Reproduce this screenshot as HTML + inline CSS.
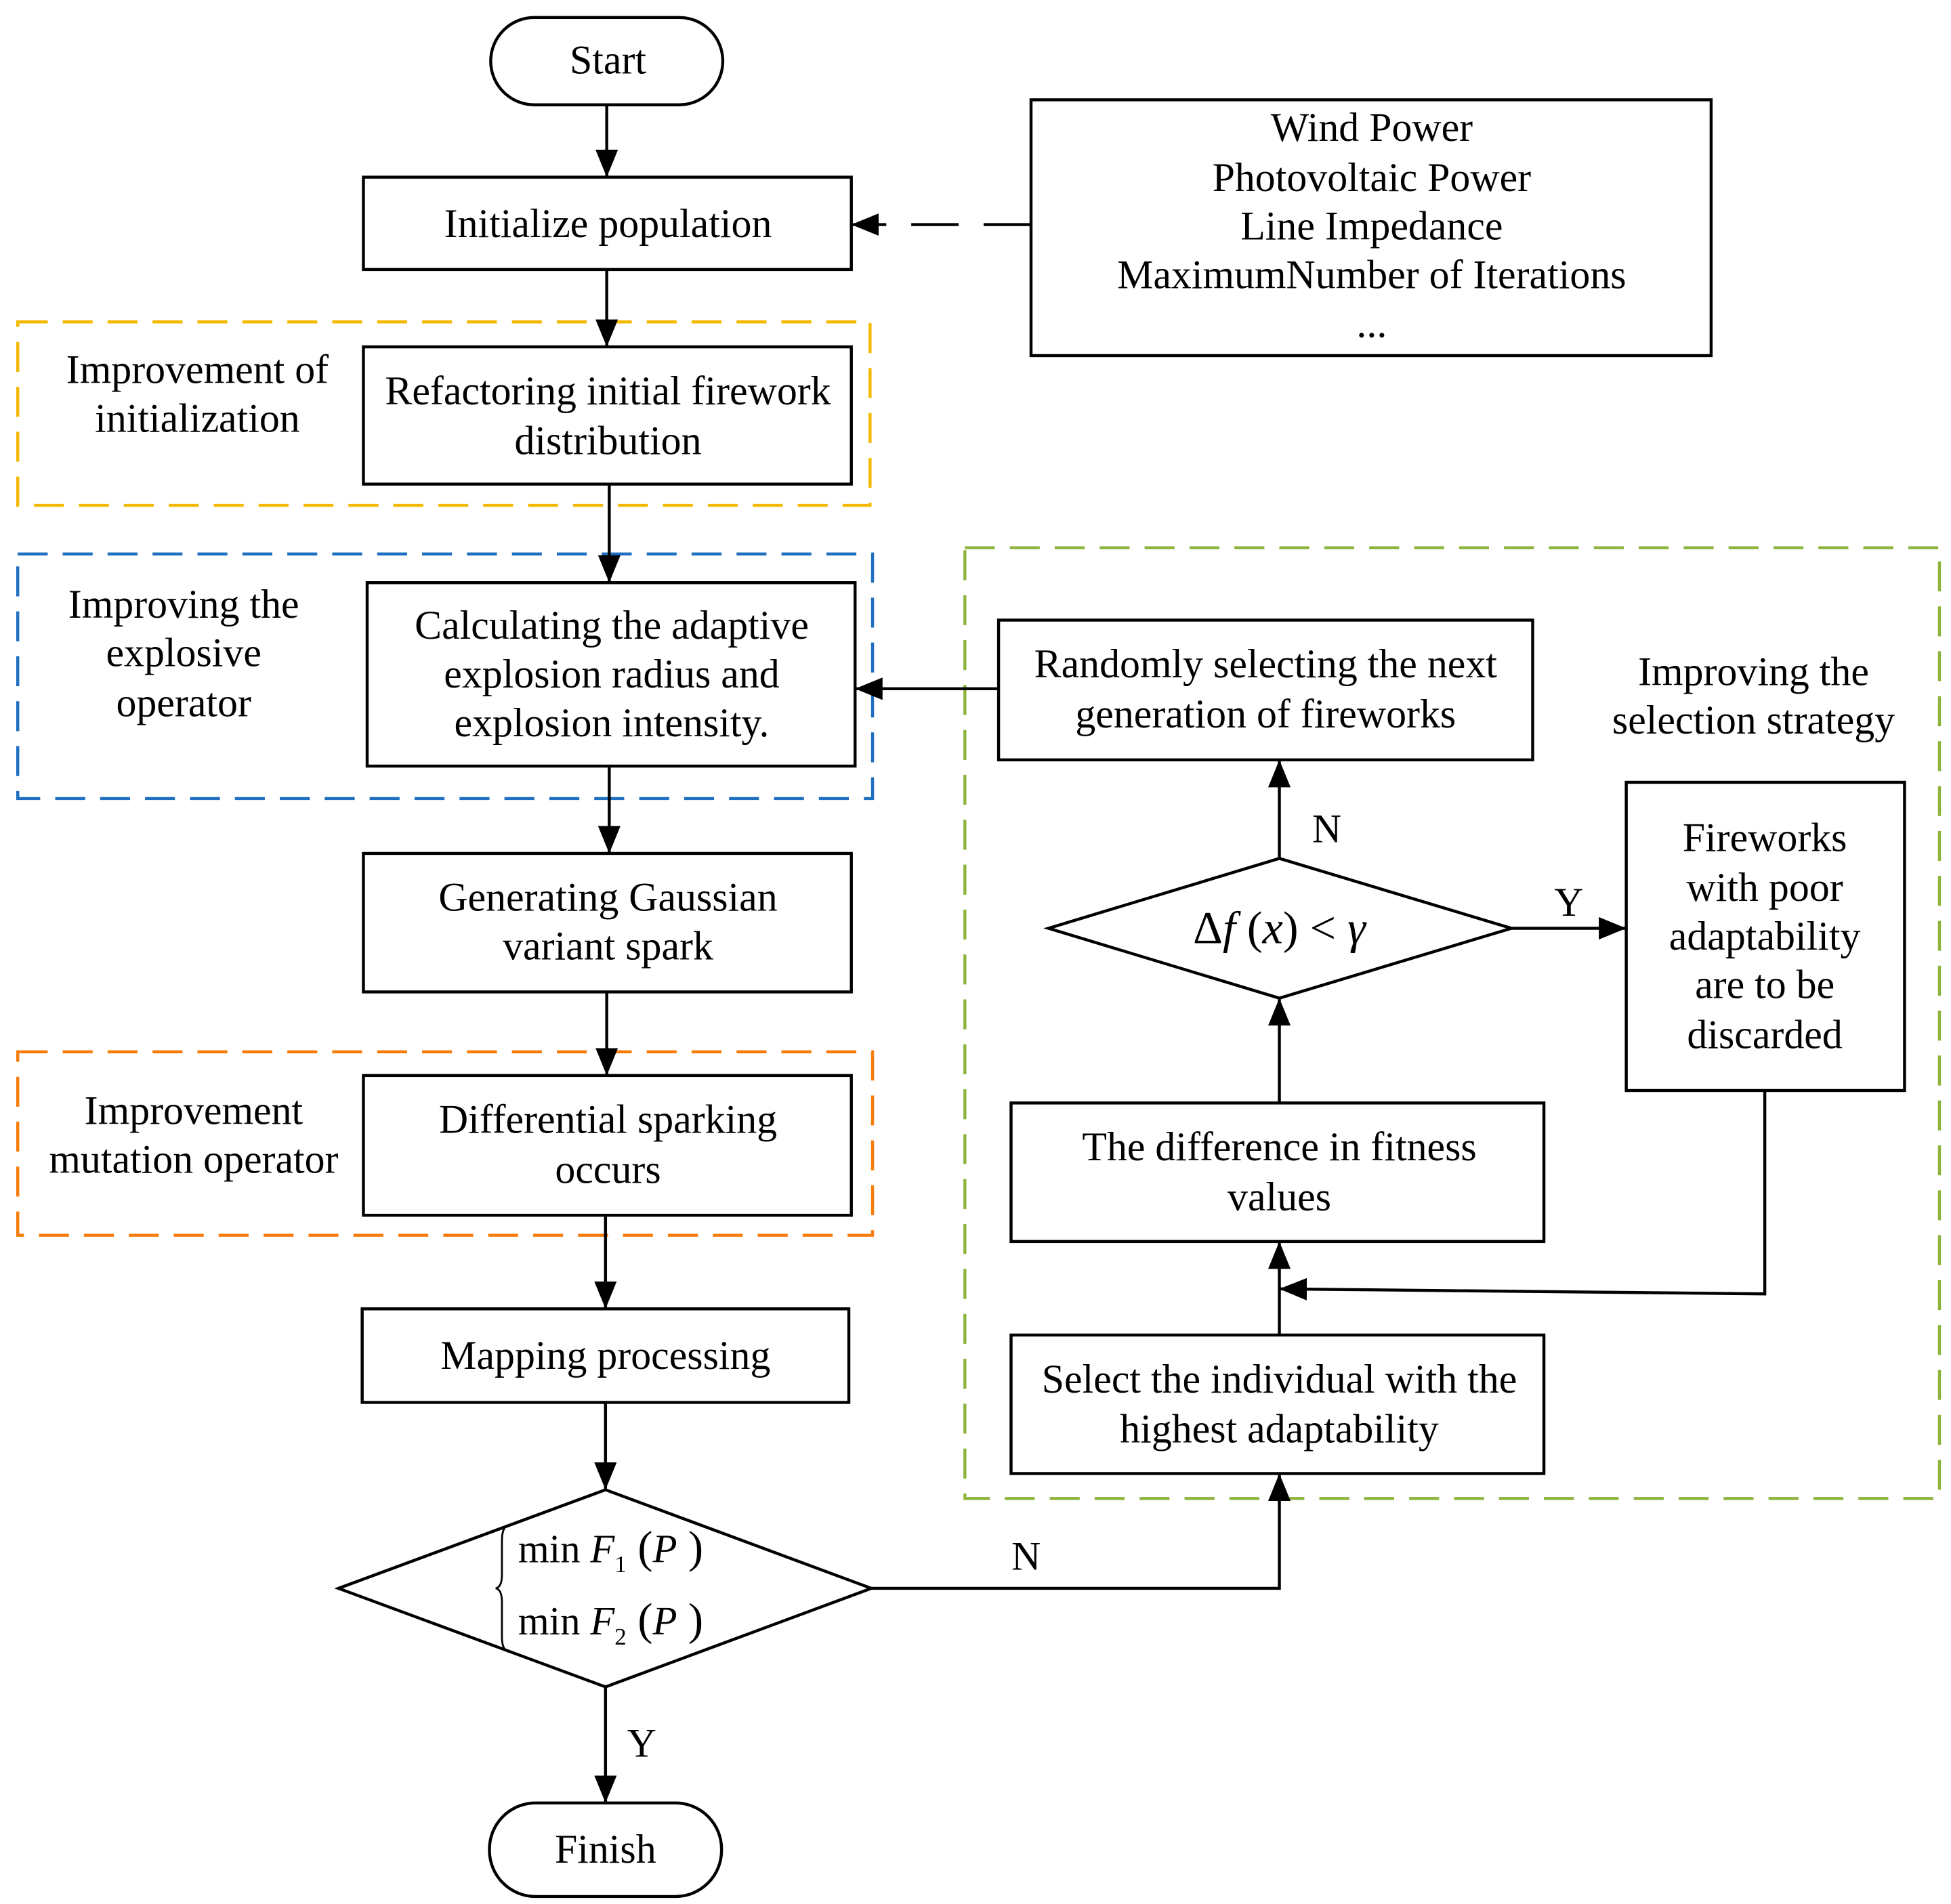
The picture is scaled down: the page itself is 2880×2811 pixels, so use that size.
<!DOCTYPE html>
<html><head><meta charset="utf-8"><style>html,body{margin:0;padding:0;background:#fff}svg{display:block}</style></head>
<body>
<svg width="2880" height="2811" viewBox="0 0 1563 1526" xmlns="http://www.w3.org/2000/svg" font-family="'Liberation Serif', serif" font-size="32.5">
<defs>
<marker id="b" markerWidth="22" markerHeight="22" refX="22" refY="11" orient="auto" markerUnits="userSpaceOnUse"><path d="M0,2 L22,11 L0,20 z" fill="#000"/></marker></defs>
<rect width="1563" height="1526" fill="#fff"/>
<g fill="none" stroke-width="2.4" stroke-dasharray="24,12">
<rect x="14" y="258" width="683" height="147" stroke="#f5b800"/>
<rect x="14" y="444" width="685" height="196" stroke="#1f6fc0"/>
<rect x="14" y="843" width="685" height="147" stroke="#f77c0a"/>
<rect x="773" y="439" width="781" height="762" stroke="#8cb43c"/>
</g>
<g fill="#fff" stroke="#000" stroke-width="2.4">
<rect x="393" y="14" width="186" height="70" rx="35"/>
<rect x="291" y="142" width="391" height="74"/>
<rect x="826" y="80" width="545" height="205"/>
<rect x="291" y="278" width="391" height="110"/>
<rect x="294" y="467" width="391" height="147"/>
<rect x="291" y="684" width="391" height="111"/>
<rect x="291" y="862" width="391" height="112"/>
<rect x="290" y="1049" width="390" height="75"/>
<polygon points="271,1273 485,1194 698,1273 485,1352"/>
<rect x="392" y="1445" width="186" height="75" rx="37"/>
<rect x="800" y="497" width="428" height="112"/>
<polygon points="840,744 1025,688 1211,744 1025,800"/>
<rect x="1303" y="627" width="223" height="247"/>
<rect x="810" y="884" width="427" height="111"/>
<rect x="810" y="1070" width="427" height="111"/>
</g>
<g stroke="#000" stroke-width="2.4" fill="none" marker-end="url(#b)">
<line x1="486" y1="84" x2="486" y2="142"/>
<line x1="486" y1="216" x2="486" y2="278"/>
<line x1="488" y1="388" x2="488" y2="467"/>
<line x1="488" y1="614" x2="488" y2="684"/>
<line x1="486" y1="795" x2="486" y2="862"/>
<line x1="485" y1="974" x2="485" y2="1049"/>
<line x1="485" y1="1124" x2="485" y2="1194"/>
<line x1="485" y1="1352" x2="485" y2="1445"/>
<polyline points="698,1273 1025,1273 1025,1181"/>
<line x1="1025" y1="1070" x2="1025" y2="995"/>
<line x1="1025" y1="884" x2="1025" y2="800"/>
<line x1="1025" y1="688" x2="1025" y2="609"/>
<line x1="1211" y1="744" x2="1303" y2="744"/>
<line x1="800" y1="552" x2="685" y2="552"/>
<polyline points="1414,874 1414,1037 1025,1033"/>
<line x1="826" y1="180" x2="682" y2="180" stroke-dasharray="38,20"/>
</g>
<g text-anchor="middle" fill="#000">
<text x="487" y="59">Start</text>
<text x="487" y="190">Initialize population</text>
<text x="1099" y="113">Wind Power</text>
<text x="1099" y="153">Photovoltaic Power</text>
<text x="1099" y="192">Line Impedance</text>
<text x="1099" y="231">MaximumNumber of Iterations</text>
<text x="1099" y="270">...</text>
<text x="158" y="307">Improvement of</text>
<text x="158" y="346">initialization</text>
<text x="487" y="324">Refactoring initial firework</text>
<text x="487" y="364">distribution</text>
<text x="147" y="495">Improving the</text>
<text x="147" y="534">explosive</text>
<text x="147" y="574">operator</text>
<text x="490" y="512">Calculating the adaptive</text>
<text x="490" y="551">explosion radius and</text>
<text x="490" y="590">explosion intensity.</text>
<text x="487" y="730">Generating Gaussian</text>
<text x="487" y="769">variant spark</text>
<text x="155" y="901">Improvement</text>
<text x="155" y="940">mutation operator</text>
<text x="487" y="908">Differential sparking</text>
<text x="487" y="948">occurs</text>
<text x="485" y="1097">Mapping processing</text>
<text x="485" y="1493">Finish</text>
<text x="514" y="1408">Y</text>
<text x="822" y="1258">N</text>
<text x="1014" y="543">Randomly selecting the next</text>
<text x="1014" y="583">generation of fireworks</text>
<text x="1405" y="549">Improving the</text>
<text x="1405" y="588">selection strategy</text>
<text x="1063" y="675">N</text>
<text x="1257" y="734">Y</text>
<text x="1414" y="682">Fireworks</text>
<text x="1414" y="722">with poor</text>
<text x="1414" y="761">adaptability</text>
<text x="1414" y="800">are to be</text>
<text x="1414" y="840">discarded</text>
<text x="1025" y="930">The difference in fitness</text>
<text x="1025" y="970">values</text>
<text x="1025" y="1116">Select the individual with the</text>
<text x="1025" y="1156">highest adaptability</text>
<text x="1025" y="756" font-size="37"><tspan>Δ</tspan><tspan font-style="italic">f</tspan> (<tspan font-style="italic">x</tspan>) &lt; <tspan font-style="italic">γ</tspan></text>
</g>
<g fill="#000" font-size="32">
<text x="415" y="1252">min <tspan font-style="italic">F</tspan><tspan font-size="19" dy="8">1</tspan><tspan dy="-8" font-size="36"> (</tspan><tspan font-style="italic">P</tspan><tspan font-size="36"> )</tspan></text>
<text x="415" y="1310">min <tspan font-style="italic">F</tspan><tspan font-size="19" dy="8">2</tspan><tspan dy="-8" font-size="36"> (</tspan><tspan font-style="italic">P</tspan><tspan font-size="36"> )</tspan></text>
</g>
<path d="M409,1222 Q402,1222 402,1235 L402,1262 Q402,1272 397,1273 Q402,1274 402,1284 L402,1312 Q402,1324 409,1324" fill="none" stroke="#000" stroke-width="1.5"/>
</svg>
</body></html>
